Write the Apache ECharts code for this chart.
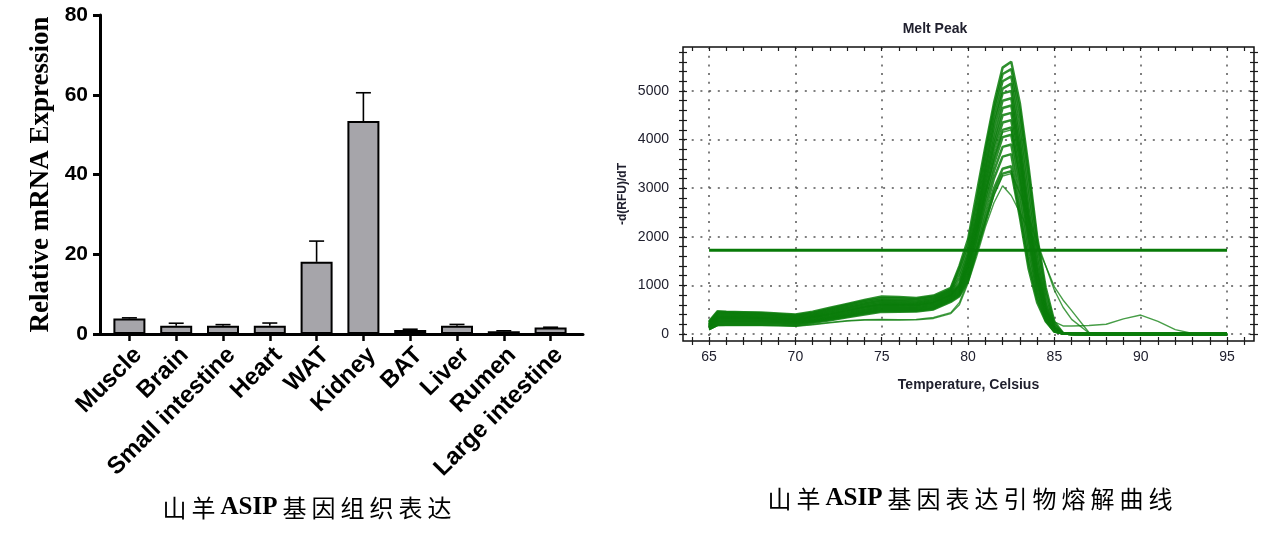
<!DOCTYPE html>
<html><head><meta charset="utf-8">
<script src="https://cdn.jsdelivr.net/npm/echarts@6/dist/echarts.min.js"></script>
<style>html,body{margin:0;padding:0;background:#fff}#c{width:1266px;height:543px}</style>
</head><body><div id="c"></div><script>
// ---- Left panel: tissue expression ----
const tissues = ['Muscle','Brain','Small intestine','Heart','WAT','Kidney','BAT','Liver','Rumen','Large intestine'];
const expression = [3.9, 2.1, 2.1, 2.1, 18.1, 53.4, 1.0, 2.1, 0.7, 1.6];
const expressionSD = [0.15, 0.6, 0.25, 0.65, 5.2, 7.1, 0.2, 0.3, 0.1, 0.1];
const leftYTicks = [0, 20, 40, 60, 80];

// ---- Right panel: melt peak curves ----
const temps = [65,65.5,66,67,68,69,70,71,72,73,74,75,76,77,78,79,79.5,80,80.5,81,81.5,82,82.5,83,83.5,84,84.5,85,85.5,86,87,88,89,90,91,92,93,94,95];
const melt01 = [260,470,460,450,440,420,400,460,540,620,700,770,760,740,790,950,1400,1950,2900,3850,4750,5480,5600,4750,3450,2000,950,250,20,5,0,0,0,0,0,0,0,0,0];
const melt02 = [240,450,445,435,425,405,385,440,520,600,680,740,735,720,770,920,1350,1850,2750,3750,4650,5350,5450,4600,3300,1900,850,200,15,5,2,0,0,0,0,0,0,0,0];
const melt03 = [230,430,430,420,410,390,370,420,500,580,655,710,705,695,745,900,1250,1750,2650,3650,4550,5200,5300,4400,3050,1700,700,150,15,4,0,0,0,0,0,0,0,0,0];
const melt04 = [210,410,410,400,390,375,355,400,480,555,630,690,685,670,720,880,1150,1650,2500,3500,4400,5050,5150,4150,2800,1550,620,120,10,3,0,0,0,0,0,0,0,0,0];
const melt05 = [200,390,395,385,375,360,340,385,460,535,610,665,660,650,700,860,1050,1600,2400,3400,4300,4950,5000,3950,2550,1400,550,110,10,3,0,0,0,0,0,0,0,0,0];
const melt06 = [190,370,375,365,355,345,325,370,440,515,590,640,635,630,680,840,1000,1550,2350,3300,4150,4800,4850,3800,2450,1300,500,100,10,2,0,0,0,0,0,0,0,0,0];
const melt07 = [180,350,355,350,340,330,310,355,420,495,565,620,615,610,660,820,980,1500,2300,3200,4000,4650,4700,3700,2350,1250,480,90,10,2,0,0,0,0,0,0,0,0,0];
const melt08 = [170,330,335,330,325,315,295,340,400,470,545,595,595,590,640,800,950,1450,2200,3100,3900,4500,4550,3600,2300,1200,450,90,10,2,0,0,0,0,0,0,0,0,0];
const melt09 = [160,310,315,310,305,300,280,320,380,450,520,575,575,570,620,780,920,1400,2150,3000,3800,4350,4400,3450,2200,1150,420,80,10,2,0,0,0,0,0,0,0,0,0];
const melt10 = [150,290,295,290,290,285,265,305,360,430,500,555,555,550,600,760,900,1350,2100,2900,3650,4200,4250,3300,2100,1050,400,70,10,2,0,0,0,0,0,0,0,0,0];
const melt11 = [140,270,275,275,275,270,250,290,345,410,480,535,535,530,580,740,870,1300,2000,2800,3500,4050,4100,3150,1950,950,360,60,10,2,0,0,0,0,0,0,0,0,0];
const melt12 = [130,250,255,255,255,250,235,275,330,390,460,515,515,515,560,720,850,1250,1950,2700,3350,3850,3900,2950,1800,880,330,60,10,2,0,0,0,0,0,0,0,0,0];
const melt13 = [120,230,235,235,235,235,220,260,315,375,440,495,495,495,540,700,820,1200,1850,2550,3200,3650,3700,2700,1600,800,300,50,10,2,0,0,0,0,0,0,0,0,0];
const melt14 = [110,210,215,215,215,215,200,245,300,360,420,475,475,480,520,680,800,1150,1750,2400,3000,3400,3450,2500,1450,720,280,50,10,2,0,0,0,0,0,0,0,0,0];
const melt15 = [100,190,195,195,195,195,180,230,285,345,400,455,460,465,505,660,780,1100,1700,2300,2900,3300,3350,2400,1350,650,260,50,10,2,0,0,0,0,0,0,0,0,0];
const melt16 = [90,180,175,175,175,170,160,190,230,265,285,290,285,290,320,420,600,1050,1600,2200,2700,3050,2850,2500,2150,1800,1400,970,700,480,30,10,0,0,0,0,0,0,0];
const melt17 = [85,175,180,180,180,175,165,200,240,275,295,300,295,300,340,440,650,1100,1700,2300,2850,3250,3300,2900,2400,1900,1400,900,550,300,20,5,0,0,0,0,0,0,0];
const melt18 = [170,340,345,340,330,320,300,345,410,480,555,605,600,595,650,800,1000,1400,2100,2900,3600,4150,4200,3200,2000,1050,450,250,165,165,175,200,310,390,260,90,10,0,0];
const meltCurves = [melt01,melt02,melt03,melt04,melt05,melt06,melt07,melt08,melt09,melt10,melt11,melt12,melt13,melt14,melt15,melt16,melt17,melt18];
const thresholdTemps = [65, 95];
const thresholdLevel = 1722;
const meltXLabels = [65, 70, 75, 80, 85, 90, 95];
const meltXMinor = [64,65,66,67,68,69,70,71,72,73,74,75,76,77,78,79,80,81,82,83,84,85,86,87,88,89,90,91,92,93,94,95,96];
const meltYLabels = [0, 1000, 2000, 3000, 4000, 5000];
const meltYMinor = [0,200,400,600,800,1000,1200,1400,1600,1800,2000,2200,2400,2600,2800,3000,3200,3400,3600,3800,4000,4200,4400,4600,4800,5000,5200,5400,5600,5800];

const X_MIN = 63.49, X_MAX = 96.56, Y_MIN = -144, Y_MAX = 5905;
const tickCol = '#1a1a1a';
const labelCol = '#20202e';
const sans = '"Liberation Sans",Arial,sans-serif';

function minorX(inside, pos) {
  return {type:'value', gridIndex:2, position:pos, min:X_MIN, max:X_MAX,
    axisLine:{show:false, onZero:false},
    axisTick:{show:true, inside:inside, length:4, customValues:meltXMinor, lineStyle:{color:tickCol, width:1.2}},
    axisLabel:{show:false}, splitLine:{show:false}};
}
function minorY(inside, pos) {
  return {type:'value', gridIndex:2, position:pos, min:Y_MIN, max:Y_MAX,
    axisLine:{show:false, onZero:false},
    axisTick:{show:true, inside:inside, length:4, customValues:meltYMinor, lineStyle:{color:tickCol, width:1.2}},
    axisLabel:{show:false}, splitLine:{show:false}};
}

const meltSeries = meltCurves.map((arr, k) => ({
  type:'line', xAxisIndex:2, yAxisIndex:2, showSymbol:false, silent:true,
  data: temps.map((t, i) => [t, arr[i]]),
  lineStyle:{color:'#0a7c0a', width: k >= 15 ? 1.4 : 2.5, opacity: k >= 15 ? 0.75 : 0.85},
  z: 3
}));

const serif = '"Liberation Serif","Times New Roman",serif';
const cjk = '"Noto Sans CJK SC",sans-serif';
function caption(chars, x, y) {
  const parts = chars.map(c => c === 'ASIP' ? '{a|ASIP}' : '{c|' + c + '}').join('');
  return {type:'text', x:x, y:y, style:{text:parts, align:'center', verticalAlign:'middle',
    rich:{c:{font:'24px ' + cjk, fill:'#000', padding:[0,2.5,0,2.5]}, a:{font:'bold 25px ' + serif, fill:'#000', padding:[0,2.5,0,2.5]}}}};
}

const option = {
  animation:false,
  backgroundColor:'#fff',
  grid:[
    {left:106, width:468, top:15, bottom:209},
    {left:100, width:483, top:15, bottom:209},
    {left:683, right:12, top:47, bottom:202, show:true, borderColor:'#111', borderWidth:1.5}
  ],
  xAxis:[
    {type:'category', gridIndex:0, data:tissues,
      axisLine:{show:false},
      axisTick:{show:true, alignWithLabel:true, length:7, lineStyle:{width:2.5, color:'#000'}},
      axisLabel:{rotate:45, interval:0, margin:9, align:'right', verticalAlign:'top', color:'#000', fontFamily:sans, fontWeight:'bold', fontSize:24}},
    {type:'value', gridIndex:1, min:0, max:1, axisLine:{show:true, onZero:false, lineStyle:{width:3, color:'#000'}},
      axisTick:{show:false}, axisLabel:{show:false}, splitLine:{show:false}},
    {type:'value', gridIndex:2, position:'bottom', min:X_MIN, max:X_MAX, splitNumber:7,
      axisLine:{show:false, onZero:false},
      axisTick:{show:false, customValues:meltXLabels},
      axisLabel:{customValues:meltXLabels, formatter:v => String(v), color:labelCol, fontSize:14, fontFamily:sans, margin:9},
      splitLine:{show:true, lineStyle:{type:[2,6.7], color:'#555', width:1.5}},
      name:'Temperature, Celsius', nameLocation:'middle', nameGap:37,
      nameTextStyle:{color:labelCol, fontSize:14, fontWeight:'bold', fontFamily:sans}},
    minorX(false, 'bottom'), minorX(true, 'bottom'), minorX(true, 'top')
  ],
  yAxis:[
    {type:'value', gridIndex:0, min:0, max:80, interval:20, axisLine:{show:false}, axisTick:{show:false}, axisLabel:{show:false}, splitLine:{show:false}},
    {type:'value', gridIndex:1, min:0, max:80, interval:20,
      axisLine:{show:true, lineStyle:{width:3, color:'#000'}},
      axisTick:{show:true, length:7, lineStyle:{width:3, color:'#000'}},
      axisLabel:{margin:12, color:'#000', fontSize:21, fontWeight:'bold', fontFamily:sans},
      splitLine:{show:false},
      name:'Relative mRNA Expression', nameLocation:'middle', nameGap:45,
      nameTextStyle:{fontFamily:serif, fontWeight:'bold', fontSize:27, color:'#000'}},
    {type:'value', gridIndex:2, position:'left', min:Y_MIN, max:Y_MAX, splitNumber:6,
      axisLine:{show:false, onZero:false},
      axisTick:{show:false, customValues:meltYLabels},
      axisLabel:{customValues:meltYLabels, formatter:v => String(v), color:labelCol, fontSize:14, fontFamily:sans, margin:14},
      splitLine:{show:true, lineStyle:{type:[2,6.7], color:'#555', width:1.5}},
      name:'-d(RFU)/dT', nameLocation:'middle', nameGap:54,
      nameTextStyle:{color:labelCol, fontSize:12, fontWeight:'bold', fontFamily:sans}},
    minorY(false, 'left'), minorY(true, 'left'), minorY(true, 'right'), minorY(false, 'right')
  ],
  series:[
    {type:'bar', xAxisIndex:0, yAxisIndex:0, data:expression, barWidth:32,
      itemStyle:{color:'#a6a5aa', borderColor:'#000', borderWidth:2}, z:2},
    {type:'custom', xAxisIndex:0, yAxisIndex:0, z:3,
      encode:{x:0, y:[1,2]},
      data: tissues.map((t, i) => [i, expression[i], expression[i] + expressionSD[i]]),
      renderItem:(params, api) => {
        const b = api.coord([api.value(0), api.value(1)]);
        const t = api.coord([api.value(0), api.value(2)]);
        const st = {stroke:'#000', lineWidth:1.6};
        return {type:'group', children:[
          {type:'line', shape:{x1:b[0], y1:b[1], x2:t[0], y2:t[1]}, style:st},
          {type:'line', shape:{x1:t[0]-7.5, y1:t[1], x2:t[0]+7.5, y2:t[1]}, style:st}
        ]};
      }},
    ...meltSeries,
    {type:'line', xAxisIndex:2, yAxisIndex:2, showSymbol:false, silent:true,
      data: thresholdTemps.map(t => [t, thresholdLevel]),
      lineStyle:{color:'#087a08', width:3}, z:4}
  ],
  graphic:[
    {type:'text', x:935, y:29, style:{text:'Melt Peak', align:'center', verticalAlign:'middle', font:'bold 14px ' + sans, fill:'#20202e'}},
    caption(['山','羊','ASIP','基','因','组','织','表','达'], 307, 508),
    caption(['山','羊','ASIP','基','因','表','达','引','物','熔','解','曲','线'], 970, 499)
  ]
};
const chart = echarts.init(document.getElementById('c'), null, {renderer:'canvas'});
chart.setOption(option);
</script></body></html>
